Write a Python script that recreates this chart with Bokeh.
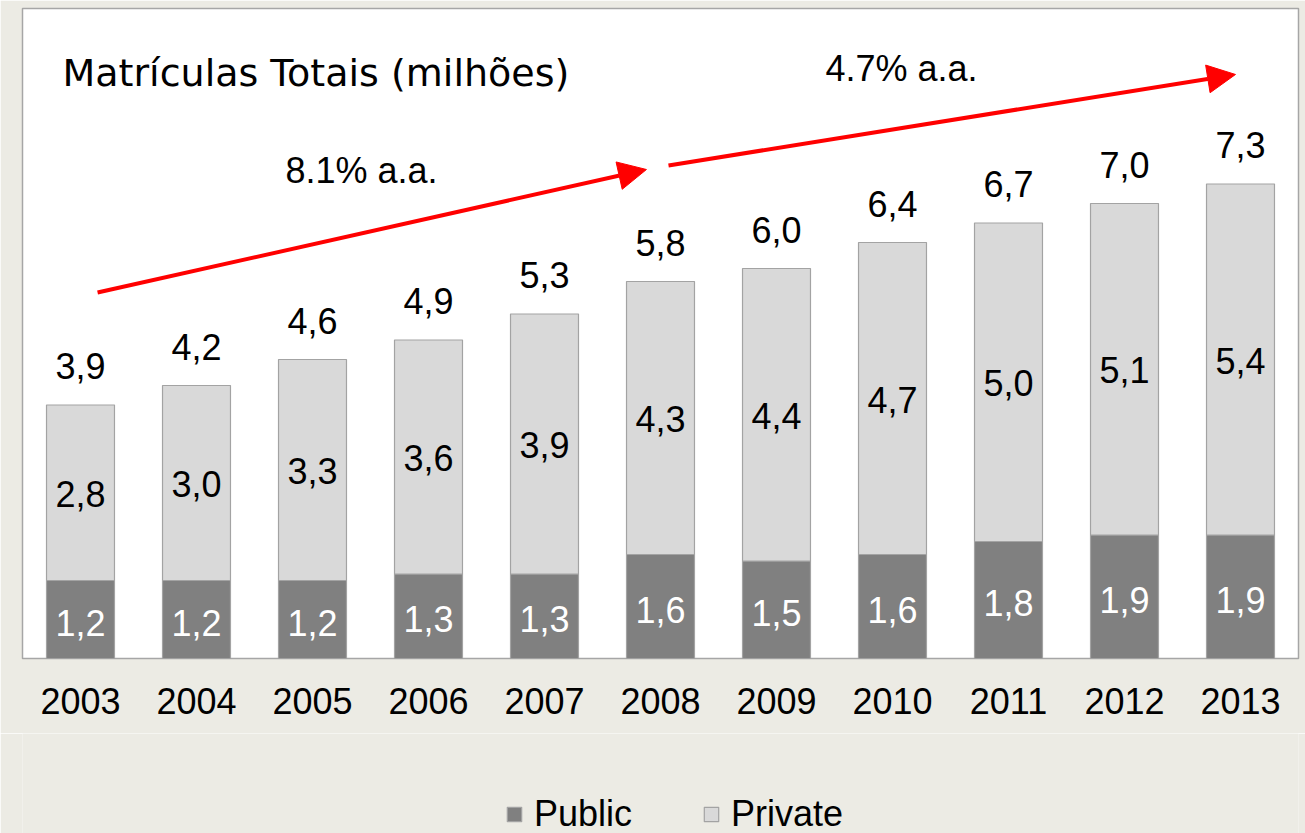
from bokeh.plotting import figure
from bokeh.layouts import column
from bokeh.models import ColumnDataSource, Range1d, FactorRange, Arrow, NormalHead, Label, Legend, LegendItem
from bokeh.embed import file_html
from bokeh.resources import INLINE
from bokeh.core.properties import value

# ---- data ----
years = ["2003", "2004", "2005", "2006", "2007", "2008", "2009", "2010", "2011", "2012", "2013"]
public = [1.2, 1.2, 1.2, 1.3, 1.3, 1.6, 1.5, 1.6, 1.8, 1.9, 1.9]
private = [2.8, 3.0, 3.3, 3.6, 3.9, 4.3, 4.4, 4.7, 5.0, 5.1, 5.4]
total = [3.9, 4.2, 4.6, 4.9, 5.3, 5.8, 6.0, 6.4, 6.7, 7.0, 7.3]
title_text = "Matrículas Totais (milhões)"
growth_labels = ["8.1% a.a.", "4.7% a.a."]
series_names = ["Public", "Private"]

FONT = "Liberation Sans"
BG = "#ECEBE4"
PUB_C = "#808080"
PRIV_C = "#D9D9D9"
EDGE_C = "#A3A3A3"


def fmt(v):
    return f"{v:.1f}".replace(".", ",")


src = ColumnDataSource(dict(
    years=years,
    public=public,
    total=total,
    zero=[0] * len(years),
    pub_mid=[p / 2 for p in public],
    priv_mid=[(p + t) / 2 for p, t in zip(public, total)],
    pub_lbl=[fmt(v) for v in public],
    priv_lbl=[fmt(v) for v in private],
    tot_lbl=[fmt(v) for v in total],
))

p = figure(
    x_range=FactorRange(*years), y_range=Range1d(0, 10),
    width=1305, height=733,
    min_border_left=22, min_border_right=7, min_border_top=8, min_border_bottom=75,
    toolbar_location=None, output_backend="svg", y_axis_location=None,
)
p.background_fill_color = "white"
p.border_fill_color = BG
p.outline_line_color = "#A6A6A6"
p.outline_line_width = 1.5
p.xgrid.grid_line_color = None
p.ygrid.grid_line_color = None

p.vbar(x="years", bottom="zero", top="public", width=0.586, source=src,
       fill_color=PUB_C, line_color=EDGE_C, line_width=1.2)
p.vbar(x="years", bottom="public", top="total", width=0.586, source=src,
       fill_color=PRIV_C, line_color=EDGE_C, line_width=1.2)

p.text(x="years", y="pub_mid", text="pub_lbl", source=src, text_align="center",
       text_baseline="middle", y_offset=3, text_font=value(FONT), text_font_size="36px",
       text_color="white")
p.text(x="years", y="priv_mid", text="priv_lbl", source=src, text_align="center",
       text_baseline="middle", y_offset=1, text_font=value(FONT), text_font_size="36px",
       text_color="black")
p.text(x="years", y="total", text="tot_lbl", source=src, text_align="center",
       text_baseline="middle", y_offset=-39, text_font=value(FONT), text_font_size="36px",
       text_color="black")

# axis
ax = p.xaxis[0]
ax.axis_line_color = None
ax.major_tick_line_color = None
ax.minor_tick_line_color = None
ax.major_tick_out = 0
ax.major_tick_in = 0
ax.major_label_standoff = 29
ax.major_label_text_font = FONT
ax.major_label_text_font_size = "36px"
ax.major_label_text_color = "black"

# arrows
for xs, ys, xe, ye in [(0.647, 5.63, 5.379, 7.523), (5.569, 7.585, 10.457, 8.985)]:
    p.add_layout(Arrow(end=NormalHead(size=28, fill_color="#FF0000", line_color="#FF0000"),
                       x_start=xs, y_start=ys, x_end=xe, y_end=ye,
                       line_color="#FF0000", line_width=4))

p.add_layout(Label(x=0.345, y=9.015, text=title_text, text_font="DejaVu Sans",
                   text_font_size="38px", text_baseline="middle", text_align="left",
                   text_color="black"))
p.add_layout(Label(x=2.922, y=7.508, text=growth_labels[0], text_font=FONT,
                   text_font_size="36px", text_baseline="middle", text_align="center",
                   text_color="black"))
p.add_layout(Label(x=7.578, y=9.077, text=growth_labels[1], text_font=FONT,
                   text_font_size="36px", text_baseline="middle", text_align="center",
                   text_color="black"))

# ---- legend strip (separate figure below the chart) ----
# the legend renderers reuse the chart data but lie outside this strip's y-range,
# so only their legend swatches are visible
leg_fig = figure(
    x_range=FactorRange(*years), y_range=Range1d(1, 2),
    width=1305, height=100,
    min_border_left=0, min_border_right=0, min_border_top=0, min_border_bottom=0,
    toolbar_location=None, output_backend="svg",
    x_axis_location=None, y_axis_location=None,
)
leg_fig.background_fill_color = BG
leg_fig.border_fill_color = BG
leg_fig.outline_line_color = None
leg_fig.xgrid.grid_line_color = None
leg_fig.ygrid.grid_line_color = None
lp = leg_fig.vbar(x="years", bottom="zero", top="zero", width=0.586, source=src,
                  fill_color=PUB_C, line_color=EDGE_C, line_width=1.2)
lq = leg_fig.vbar(x="years", bottom="zero", top="zero", width=0.586, source=src,
                  fill_color=PRIV_C, line_color=EDGE_C, line_width=1.2)

legend = Legend(
    items=[LegendItem(label=series_names[0], renderers=[lp]),
           LegendItem(label=series_names[1], renderers=[lq])],
    orientation="horizontal", location=(483, -2),
    label_text_font=FONT, label_text_font_size="36px", label_text_color="black",
    glyph_width=18, glyph_height=18, label_standoff=11, spacing=70,
    padding=0, margin=0, border_line_color=None, background_fill_alpha=0,
)
leg_fig.add_layout(legend, "center")

layout = column(p, leg_fig, spacing=0)

html = file_html(layout, INLINE)
html = html.replace(
    "<body>",
    '<body style="background-color:%s;margin:0;overflow:hidden">' % BG, 1)
open("out.html", "w").write(html)
